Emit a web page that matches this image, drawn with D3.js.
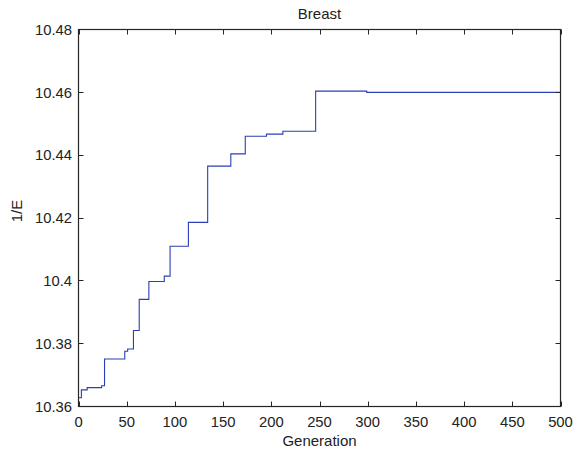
<!DOCTYPE html>
<html><head><meta charset="utf-8">
<script src="https://d3js.org/d3.v7.min.js"></script>
<style>body{margin:0;background:#fff}svg{display:block}text{font-family:"Liberation Sans",Arial,sans-serif;fill:#222}</style>
</head><body><div id="c"></div>
<script>
const generations = [0,3,9,24,27,48,51,57,63,73,89,95,114,134,158,173,195,212,246,299,500];
const fitness = [10.3628,10.3653,10.3660,10.3666,10.3751,10.3776,10.3783,10.3842,10.3941,10.3998,10.4015,10.4110,10.4186,10.4365,10.4404,10.4460,10.4467,10.4476,10.4604,10.4600,10.4600];
const xTicks = [0,50,100,150,200,250,300,350,400,450,500];
const yTicks = [10.36,10.38,10.40,10.42,10.44,10.46,10.48];
const yTickLabels = ["10.36","10.38","10.4","10.42","10.44","10.46","10.48"];
const title = "Breast", xLabel = "Generation", yLabel = "1/E";

const W=580,H=452, L=78.5, R=560.5, T=29.5, B=406.5;
const svg=d3.select("#c").append("svg").attr("width",W).attr("height",H);
const x=d3.scaleLinear().domain([0,500]).range([L,R]);
const y=d3.scaleLinear().domain([10.36,10.48]).range([B,T]);
const data=generations.map((g,i)=>({g,v:fitness[i]}));

svg.append("path").datum(data)
  .attr("d",d3.line().x(d=>x(d.g)).y(d=>y(d.v)).curve(d3.curveStepAfter))
  .attr("fill","none").attr("stroke","#2a3fb5").attr("stroke-width",1.1);

const ax="#262626", tl=5, fs=14.8;
const g=svg.append("g");
g.append("rect").attr("x",L).attr("y",T).attr("width",R-L).attr("height",B-T)
  .attr("fill","none").attr("stroke",ax).attr("stroke-width",1.2);
xTicks.forEach(t=>{
  const px=Math.round(x(t))+0.5;
  g.append("line").attr("x1",px).attr("x2",px).attr("y1",B).attr("y2",B-tl).attr("stroke",ax);
  g.append("line").attr("x1",px).attr("x2",px).attr("y1",T).attr("y2",T+tl).attr("stroke",ax);
  g.append("text").attr("x",x(t)).attr("y",427).attr("text-anchor","middle").attr("font-size",fs).text(t);
});
yTicks.forEach((t,i)=>{
  const py=Math.round(y(t)-0.5)+0.5;
  g.append("line").attr("x1",L).attr("x2",L+tl).attr("y1",py).attr("y2",py).attr("stroke",ax);
  g.append("line").attr("x1",R).attr("x2",R-tl).attr("y1",py).attr("y2",py).attr("stroke",ax);
  g.append("text").attr("x",72).attr("y",y(t)+5.3).attr("text-anchor","end").attr("font-size",fs).text(yTickLabels[i]);
});
svg.append("text").attr("x",(L+R)/2).attr("y",18.5).attr("text-anchor","middle").attr("font-size",15).text(title);
svg.append("text").attr("x",(L+R)/2).attr("y",445.5).attr("text-anchor","middle").attr("font-size",15).text(xLabel);
svg.append("text").attr("transform","translate(22,211) rotate(-90)").attr("text-anchor","middle").attr("font-size",15).text(yLabel);
</script></body></html>
